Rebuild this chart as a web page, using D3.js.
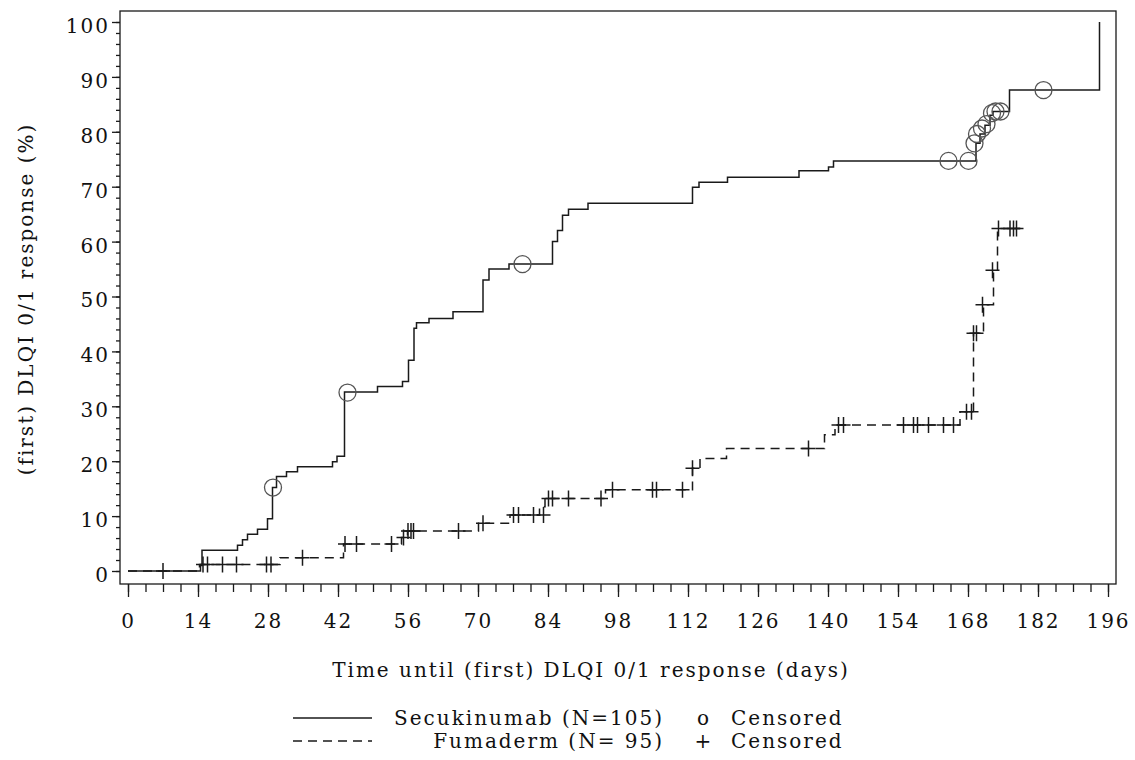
<!DOCTYPE html>
<html>
<head>
<meta charset="utf-8">
<script src="https://cdn.jsdelivr.net/npm/d3@7"></script>
<style>
  body { margin: 0; background: #fff; }
  svg text { font-family: "DejaVu Serif", serif; font-size: 20px; letter-spacing: 2px; fill: #111; }
</style>
</head>
<body>
<svg id="chart" width="1135" height="760"></svg>
<script>
// step points: [day, cumulative response %] (value holds from that day on)
const secukinumabSteps = [
  [0, 0], [14.5, 1.0], [14.8, 3.8], [21.9, 4.7], [22.9, 5.7], [23.9, 6.7], [25.9, 7.6],
  [27.9, 9.5], [28.9, 15.2], [29.7, 17.2], [31.7, 18.1], [33.9, 19.0], [40.9, 19.9],
  [41.8, 20.9], [43.3, 32.6], [49.9, 33.6], [54.9, 34.5], [56.1, 38.4], [57.2, 44.2],
  [57.7, 45.2], [60.2, 46.0], [65.0, 47.2], [71.0, 53.0], [72.2, 55.0], [76.2, 55.9],
  [84.9, 60.0], [85.9, 62.0], [86.9, 64.8], [88.1, 65.9], [92.0, 67.0], [112.9, 69.9],
  [114.2, 70.8], [119.9, 71.7], [134.2, 72.9], [140.1, 73.6], [141.1, 74.7], [169.6, 77.9],
  [170.4, 79.6], [171.4, 81.2], [172.4, 83.0], [173.0, 83.7], [176.3, 87.6], [194.3, 100]
];
const secukinumabCensored = [
  [29.0, 15.2], [43.9, 32.5], [78.9, 55.9], [164.1, 74.7], [168.1, 74.7], [169.3, 77.9],
  [169.8, 79.6], [170.8, 80.6], [171.7, 81.4], [172.8, 83.4], [173.5, 83.7], [174.5, 83.7],
  [183.1, 87.6]
];
const fumadermSteps = [
  [0, 0], [14.3, 1.2], [30.4, 2.4], [43.1, 4.9], [54.7, 6.1], [55.9, 7.3], [70.1, 8.7],
  [76.4, 10.2], [82.3, 11.7], [83.4, 13.2], [95.5, 14.8], [112.9, 18.7], [114.4, 20.5],
  [119.7, 22.3], [139.3, 24.8], [141.4, 26.6], [166.4, 29.0], [169.1, 43.3], [171.1, 48.5],
  [173.1, 54.8], [173.9, 62.4], [178.4, 62.4]
];
const fumadermCensored = [
  [7.0, 0], [15.0, 1.2], [15.9, 1.2], [18.9, 1.2], [21.7, 1.2], [27.7, 1.2], [28.6, 1.2],
  [34.9, 2.4], [43.4, 4.9], [45.7, 4.9], [52.7, 4.9], [55.1, 6.1], [56.0, 7.3], [56.6, 7.3],
  [57.1, 7.3], [66.1, 7.3], [71.0, 8.7], [77.1, 10.2], [78.1, 10.2], [81.1, 10.2], [83.1, 10.2],
  [84.1, 13.2], [84.9, 13.2], [88.1, 13.2], [94.6, 13.2], [96.9, 14.8], [104.9, 14.8],
  [105.7, 14.8], [110.9, 14.8], [112.9, 18.7], [136.1, 22.3], [142.1, 26.6], [143.1, 26.6],
  [155.1, 26.6], [157.1, 26.6], [157.9, 26.6], [160.1, 26.6], [163.1, 26.6], [165.1, 26.6],
  [167.7, 29.0], [168.7, 29.0], [169.1, 43.3], [169.7, 43.3], [170.9, 48.5], [172.9, 54.8],
  [174.1, 62.4], [176.4, 62.4], [177.1, 62.4], [177.7, 62.4]
];
const xTicks = d3.range(0, 197, 14);
const xMinorTicks = d3.range(0, 196.1, 3.5);
const yTicks = d3.range(0, 101, 10);
const yMinorTicks = d3.range(0, 101, 2);
const xTitle = "Time until (first) DLQI 0/1 response (days)";
const yTitle = "(first) DLQI 0/1 response (%)";
const legendGroups = ["Secukinumab (N=105)", "Fumaderm (N= 95)"];
const legendSymbols = ["o", "+"];
const legendSymbolText = "Censored";

const svg = d3.select("#chart");
const x = d3.scaleLinear().domain([0, 196]).range([128, 1108]);
const y = d3.scaleLinear().domain([0, 100]).range([571, 22]);
const frame = {left: 120, right: 1116, top: 11, bottom: 584};
const ink = "#1a1a1a";

// frame
svg.append("rect")
  .attr("x", frame.left).attr("y", frame.top)
  .attr("width", frame.right - frame.left).attr("height", frame.bottom - frame.top)
  .attr("fill", "none").attr("stroke", ink).attr("stroke-width", 1.3);

// x axis
const gx = svg.append("g").attr("transform", `translate(0,${frame.bottom})`);
gx.append("g").call(d3.axisBottom(x).tickValues(xMinorTicks).tickSize(8).tickFormat(""));
gx.append("g").call(d3.axisBottom(x).tickValues(xTicks).tickSize(13).tickPadding(17));
gx.selectAll(".domain").remove();
gx.selectAll("line").attr("stroke", ink).attr("stroke-width", 1.3);
gx.selectAll("text").attr("font-family", null).attr("font-size", null).attr("fill", ink);

// y axis
const gy = svg.append("g").attr("transform", `translate(${frame.left},0)`);
gy.append("g").call(d3.axisLeft(y).tickValues(yMinorTicks).tickSize(4).tickFormat(""));
gy.append("g").call(d3.axisLeft(y).tickValues(yTicks).tickSize(8).tickPadding(2));
gy.selectAll(".domain").remove();
gy.selectAll("line").attr("stroke", ink).attr("stroke-width", 1.3);
gy.selectAll("text").attr("font-family", null).attr("font-size", null)
  .attr("fill", ink).attr("dy", "0.52em");

// titles
svg.append("text")
  .attr("x", 591).attr("y", 677)
  .attr("text-anchor", "middle")
  .text(xTitle);
svg.append("text")
  .attr("transform", "translate(33,299) rotate(-90)")
  .attr("text-anchor", "middle")
  .text(yTitle);

// curves
const line = d3.line().x(d => x(d[0])).y(d => y(d[1])).curve(d3.curveStepAfter);
svg.append("path")
  .datum(secukinumabSteps)
  .attr("d", line)
  .attr("fill", "none").attr("stroke", ink).attr("stroke-width", 1.5);
svg.append("path")
  .datum(fumadermSteps)
  .attr("d", line)
  .attr("fill", "none").attr("stroke", ink).attr("stroke-width", 1.5)
  .attr("stroke-dasharray", "9,6");

// censor marks
svg.append("g")
  .selectAll("circle")
  .data(secukinumabCensored)
  .join("circle")
  .attr("cx", d => x(d[0])).attr("cy", d => y(d[1]))
  .attr("r", 8.5)
  .attr("fill", "none").attr("stroke", "#555").attr("stroke-width", 1.3);
svg.append("g")
  .selectAll("path")
  .data(fumadermCensored)
  .join("path")
  .attr("transform", d => `translate(${x(d[0])},${y(d[1])})`)
  .attr("d", "M-7,0H7M0,-8V8")
  .attr("stroke", ink).attr("stroke-width", 1.5);

// legend
const legend = svg.append("g");
const rows = legend.selectAll("g")
  .data(legendGroups)
  .join("g")
  .attr("transform", (d, i) => `translate(0,${718 + i * 23})`);
rows.append("line")
  .attr("x1", 293).attr("x2", 372)
  .attr("stroke", ink).attr("stroke-width", 1.5)
  .attr("stroke-dasharray", (d, i) => i ? "9,6" : null);
rows.append("text")
  .attr("x", 664).attr("y", 7)
  .attr("text-anchor", "end")
  .text(d => d);
rows.append("text")
  .attr("x", 704).attr("y", 7)
  .attr("text-anchor", "middle")
  .text((d, i) => legendSymbols[i]);
rows.append("text")
  .attr("x", 731).attr("y", 7)
  .text(legendSymbolText);
</script>
</body>
</html>
